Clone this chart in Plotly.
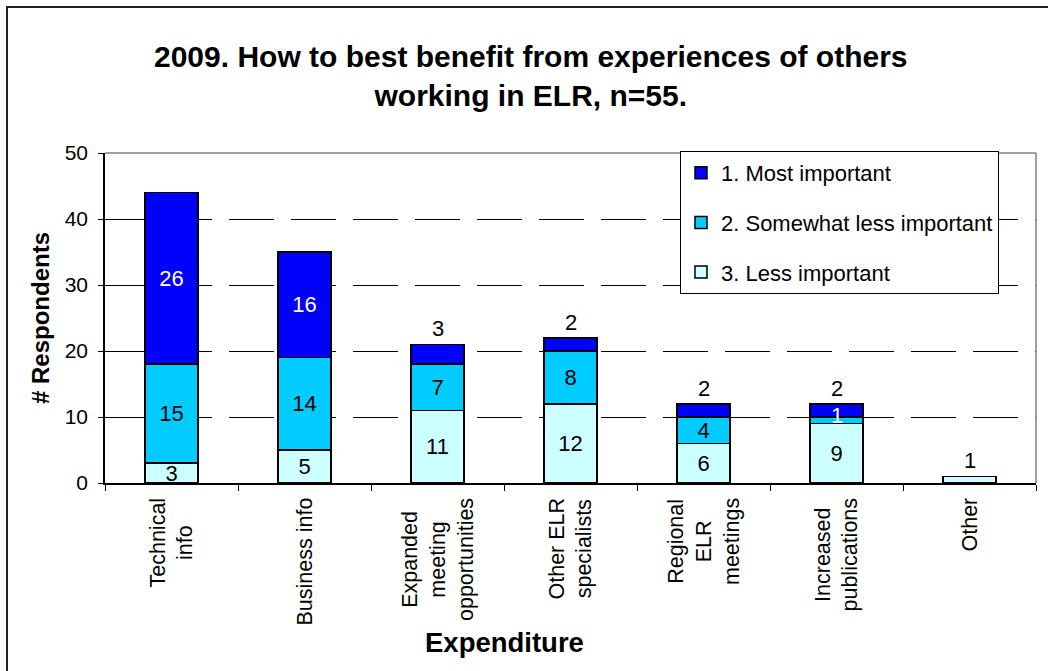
import plotly.graph_objects as go

# Survey responses per category, split by importance rank
categories = [
    "Technical info",
    "Business info",
    "Expanded meeting opportunities",
    "Other ELR specialists",
    "Regional ELR meetings",
    "Increased publications",
    "Other",
]
category_labels = [
    "Technical<br>info",
    "Business info",
    "Expanded<br>meeting<br>opportunities",
    "Other ELR<br>specialists",
    "Regional<br>ELR<br>meetings",
    "Increased<br>publications",
    "Other",
]
less_important = [3, 5, 11, 12, 6, 9, 1]
somewhat_less = [15, 14, 7, 8, 4, 1, 0]
most_important = [26, 16, 3, 2, 2, 2, 0]

y_ticks = [0, 10, 20, 30, 40, 50]

FONT = "Liberation Sans, Arial, sans-serif"
LABEL_SIZE = 22

# Plot area in pixels (for paper-coordinate conversions)
W, H = 1048, 671
PL, PR, PT, PB = 105, 1036, 153, 483
PW, PH = PR - PL, PB - PT


def px_to_paper_x(px):
    return (px - PL) / PW


def px_to_paper_y(py):
    return (PB - py) / PH


series = [
    ("3. Less important", less_important, "#CCFFFF", "black"),
    ("2. Somewhat less important", somewhat_less, "#00CCFF", "black"),
    ("1. Most important", most_important, "#0000FF", "white"),
]

fig = go.Figure()
for i, (name, vals, color, txtcolor) in enumerate(series):
    # small top segments get their label above the bar instead
    texts = []
    for j, v in enumerate(vals):
        total = less_important[j] + somewhat_less[j] + most_important[j]
        base = sum(s[1][j] for s in series[:i])
        is_top = base + v == total
        if v >= 3 and not (is_top and v <= 3 and total < 30):
            texts.append(str(v))
        else:
            texts.append("")
    fig.add_trace(go.Bar(
        name=name,
        x=categories,
        y=vals,
        marker=dict(color=color, line=dict(color="black", width=1.5)),
        text=texts,
        texttemplate="%{text}",
        textposition="inside",
        insidetextanchor="middle",
        textangle=0,
        textfont=dict(family=FONT, size=LABEL_SIZE, color=txtcolor),
        legendgroup=name,
        legendrank=3 - i,
        hoverinfo="skip",
    ))

annotations = []

# labels above bars for short top segments
for j, cat in enumerate(categories):
    total = less_important[j] + somewhat_less[j] + most_important[j]
    segs = [less_important[j], somewhat_less[j], most_important[j]]
    top_val = [v for v in segs if v > 0][-1]
    if top_val <= 3 and total < 30:
        annotations.append(dict(
            x=cat, y=total, xref="x", yref="y",
            text=str(top_val), showarrow=False,
            yanchor="bottom", yshift=1,
            font=dict(family=FONT, size=LABEL_SIZE, color="black"),
        ))
    # a 1-unit middle segment is too thin for inside text
    if segs[1] == 1:
        annotations.append(dict(
            x=cat, y=segs[0] + segs[1] / 2, xref="x", yref="y",
            text=str(segs[1]), showarrow=False,
            yanchor="middle", yshift=5,
            font=dict(family=FONT, size=LABEL_SIZE, color="white"),
        ))

# rotated category labels under the axis
for cat, lab in zip(categories, category_labels):
    annotations.append(dict(
        x=cat, y=0, xref="x", yref="paper",
        text=lab, showarrow=False, textangle=-90,
        xanchor="center", yanchor="top", yshift=-13, align="center",
        font=dict(family=FONT, size=21.5, color="black"),
    ))

# chart title
annotations.append(dict(
    x=px_to_paper_x(531), y=px_to_paper_y(76), xref="paper", yref="paper",
    text="<b>2009. How to best benefit from experiences of others<br>working in ELR, n=55.</b>",
    showarrow=False, xanchor="center", yanchor="middle", align="center",
    font=dict(family=FONT, size=30, color="black"),
))
# axis titles
annotations.append(dict(
    x=px_to_paper_x(40), y=0.5, xref="paper", yref="paper",
    text="<b># Respondents</b>", showarrow=False, textangle=-90,
    xanchor="center", yanchor="middle",
    font=dict(family=FONT, size=24, color="black"),
))
annotations.append(dict(
    x=px_to_paper_x(504), y=px_to_paper_y(642), xref="paper", yref="paper",
    text="<b>Expenditure</b>", showarrow=False,
    xanchor="center", yanchor="middle",
    font=dict(family=FONT, size=27.5, color="black"),
))

shapes = [
    # outer chart frame
    dict(type="rect", xref="paper", yref="paper",
         x0=px_to_paper_x(7), x1=px_to_paper_x(1060),
         y0=px_to_paper_y(690), y1=px_to_paper_y(7),
         line=dict(color="#222222", width=2), layer="below"),
    # plot area border (top and right)
    dict(type="line", xref="paper", yref="paper", x0=0, x1=1, y0=1, y1=1,
         line=dict(color="#808080", width=1.5), layer="above"),
    dict(type="line", xref="paper", yref="paper", x0=1, x1=1, y0=0, y1=1,
         line=dict(color="#808080", width=1.5), layer="above"),
]

fig.update_layout(
    width=W, height=H,
    margin=dict(l=PL, r=W - PR, t=PT, b=H - PB, pad=0),
    paper_bgcolor="white", plot_bgcolor="white",
    barmode="stack", bargap=0.6,
    font=dict(family=FONT, size=20, color="black"),
    uniformtext=dict(mode="show", minsize=LABEL_SIZE),
    showlegend=True,
    legend=dict(
        x=px_to_paper_x(680), y=px_to_paper_y(151),
        xanchor="left", yanchor="top",
        bordercolor="black", borderwidth=1, bgcolor="white",
        font=dict(family=FONT, size=22, color="black"),
        traceorder="grouped", tracegroupgap=18,
        itemwidth=30,
    ),
    annotations=annotations,
    shapes=shapes,
)

fig.update_xaxes(
    type="category", showline=True, linecolor="black", linewidth=1.5,
    ticks="outside", ticklen=6, tickcolor="black", tickson="boundaries",
    showticklabels=False, showgrid=False, zeroline=False,
)
fig.update_yaxes(
    range=[0, 50], tickvals=y_ticks, showline=True, linecolor="black", linewidth=1.5,
    ticks="outside", ticklen=5, tickcolor="black", ticklabelstandoff=6,
    showgrid=True, gridcolor="black", gridwidth=1, griddash="45px,17px",
    zeroline=False, tickfont=dict(family=FONT, size=21, color="black"),
)

fig.write_html("out.html")
